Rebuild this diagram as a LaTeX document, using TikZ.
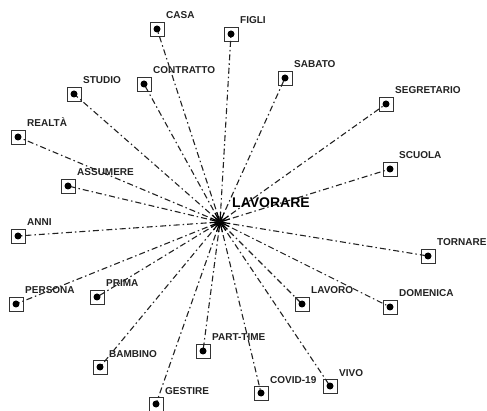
\documentclass[tikz,border=0pt]{standalone}
\usepackage{fontspec}
\setmainfont{Liberation Sans}
\usetikzlibrary{calc}
\definecolor{ink}{HTML}{222222}
\definecolor{boxc}{HTML}{333333}
\begin{document}
\begin{tikzpicture}[x=1pt,y=-1pt,
  term/.style={draw=boxc, line width=0.9pt, minimum size=14pt, inner sep=0pt},
  link/.style={draw=ink, line width=1.1pt, dash pattern=on 6pt off 3pt on 1.5pt off 3pt},
  stub/.style={draw=black, line width=1.2pt},
  lbl/.style={text=ink, font=\bfseries\fontsize{10}{12}\selectfont, inner sep=0pt, anchor=base west},
  hublbl/.style={text=black, font=\bfseries\fontsize{14}{16}\selectfont, inner sep=0pt, anchor=base west}]
\useasboundingbox (0,0) rectangle (487,411);
\coordinate (hub) at (220,222);
\foreach \n/\x/\y/\t in {
  casa/157/29/CASA, figli/231/34/FIGLI, contratto/144/84/CONTRATTO,
  sabato/285/78/SABATO, studio/74/94/STUDIO, segretario/386/104/SEGRETARIO,
  realta/18/137/REALTÀ, scuola/390/169/SCUOLA, assumere/68/186/ASSUMERE,
  anni/18/236/ANNI, tornare/428/256/TORNARE, persona/16/304/PERSONA,
  prima/97/297/PRIMA, lavoro/302/304/LAVORO, domenica/390/307/DOMENICA,
  parttime/203/351/PART-TIME, bambino/100/367/BAMBINO, vivo/330/386/VIVO,
  covid/261/393/COVID-19, gestire/156/404/GESTIRE}{
  \node[term] (\n) at (\x,\y) {};
  \draw[link] (hub) -- (\n.center);
  \draw[stub] (hub) -- ($(hub)!10pt!(\n.center)$);
  \fill[black] (\n.center) circle (3.5pt);
  \node[lbl] (\n-l) at ([xshift=9pt,yshift=10pt]\n.center) {\t};
}
\node[hublbl] (hubl) at (232,208) {LAVORARE};
\end{tikzpicture}
\end{document}
